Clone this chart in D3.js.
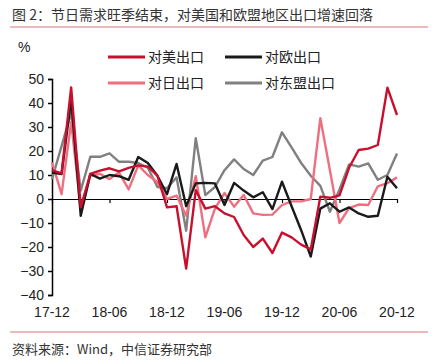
<!DOCTYPE html>
<html><head><meta charset="utf-8">
<script src="https://cdn.jsdelivr.net/npm/d3@7"></script>
<style>
body{margin:0;background:#fff;}
svg{display:block;}
text{font-family:"Liberation Sans","Noto Sans CJK SC",sans-serif;fill:#222;}
.cjk{font-family:"Noto Sans CJK SC","Liberation Sans",sans-serif;}
</style></head>
<body>
<script>
const months = ["17-12","18-01","18-02","18-03","18-04","18-05","18-06","18-07","18-08","18-09","18-10","18-11",
"18-12","19-01","19-02","19-03","19-04","19-05","19-06","19-07","19-08","19-09","19-10","19-11",
"19-12","20-01","20-02","20-03","20-04","20-05","20-06","20-07","20-08","20-09","20-10","20-11","20-12"];
const tickLabels = ["17-12","18-06","18-12","19-06","19-12","20-06","20-12"];
const yTicks = [50,40,30,20,10,0,-10,-20,-30,-40];
const seriesNames = ["对美出口","对欧出口","对日出口","对东盟出口"];
const usExports = [12,10.7,46.5,-3.5,10.5,11.8,12.8,11.5,13,14,13.5,9.7,-3.5,-3,-29,3.7,-4,-3,-6,-7.5,-15,-20,-16.5,-22.5,-14,-16,-19,-21,1,0.5,1.5,13,20.4,21,22.5,46.4,35];
const euExports = [11,10.4,41.7,-7,10.4,8.5,10,9.5,8,17.5,15,9.7,2,14.6,-3,6.5,6.7,6.5,-2.5,6.7,3.5,0.7,2.8,-4.2,7.2,-3,-13,-24,-4,-1.8,-5.3,-3.5,-6,-7.4,-7,9.3,4.5];
const jpExports = [15.3,2,32,-4,9.7,10.5,8.3,11,4,14,10,7,0,1.4,-7,9.5,-16,-4,2.5,-3.2,1.7,-6,-6.6,-6.5,-2.5,-1,-1,0,33.7,12,-10,-3.8,-2.3,-2.5,5.3,6.6,9]; 
const aseanExports = [8.3,22,36,3.5,17.6,17.6,19,15.5,15.5,15,13,5,4.5,9,-13.2,25.3,1.6,5,12,16.5,12.5,10,16,17.5,27.8,21.5,15,9.7,5.5,-5.3,4,14.4,13.5,14.8,8,10,19];

const W=437,H=364;
const svg=d3.select("body").append("svg").attr("width",W).attr("height",H);

// title
svg.append("text").attr("class","cjk").attr("x",12).attr("y",20).attr("font-size",14).style("fill","#333")
  .text("图 2：节日需求旺季结束，对美国和欧盟地区出口增速回落");
svg.append("line").attr("x1",10).attr("x2",428).attr("y1",27).attr("y2",27).attr("stroke","#d9747a").attr("stroke-width",1.2);
svg.append("line").attr("x1",10).attr("x2",428).attr("y1",332).attr("y2",332).attr("stroke","#d9747a").attr("stroke-width",1.2);
svg.append("text").attr("class","cjk").attr("x",12).attr("y",354).attr("font-size",13).style("fill","#333")
  .text("资料来源：Wind，中信证券研究部");

const x=d3.scalePoint().domain(months).range([52,397]);
const y=d3.scaleLinear().domain([-40,50]).range([295,79]);

svg.append("text").attr("x",18).attr("y",52).attr("font-size",14).text("%");

// y axis
const yAxis=svg.append("g").attr("transform","translate(52,0)")
  .call(d3.axisLeft(y).tickValues(yTicks).tickSize(4).tickPadding(4).tickFormat(d3.format("d")));
yAxis.select(".domain").attr("stroke","#000").attr("stroke-width",1.5);
yAxis.selectAll(".tick line").attr("stroke","#000").attr("stroke-width",1.5);
yAxis.selectAll("text").attr("font-size",14).style("fill","#222").attr("font-family","Liberation Sans");

const colors=["#c8102e","#1a1a1a","#ef6f7f","#808080"];
const data=[usExports,euExports,jpExports,aseanExports];

const line=d3.line().x((d,i)=>x(months[i])).y(d=>y(d));

// x axis at 0 drawn first
const xAxis=svg.append("g").attr("transform",`translate(0,${y(0)})`)
  .call(d3.axisBottom(x).tickValues(tickLabels).tickSize(4).tickSizeOuter(0).tickFormat(()=>""));
xAxis.select(".domain").attr("stroke","#000").attr("stroke-width",1.2);
xAxis.selectAll(".tick line").attr("stroke","#000").attr("stroke-width",1.2);

const order=[3,2,1,0];
order.forEach(k=>{
  svg.append("path").datum(data[k]).attr("d",line).attr("fill","none")
    .attr("stroke",colors[k]).attr("stroke-width",2.4).attr("stroke-linejoin","round");
});

// x tick labels
svg.append("g").selectAll("text").data(tickLabels).join("text")
  .attr("x",d=>x(d)).attr("y",317).attr("text-anchor","middle").attr("font-size",14).text(d=>d);

// legend
const leg=[{k:0,x:108,y:57},{k:1,x:225,y:57},{k:2,x:108,y:83},{k:3,x:225,y:83}];
leg.forEach(l=>{
  svg.append("line").attr("x1",l.x).attr("x2",l.x+37).attr("y1",l.y).attr("y2",l.y)
    .attr("stroke",colors[l.k]).attr("stroke-width",3);
  svg.append("text").attr("class","cjk").attr("x",l.x+40).attr("y",l.y+5).attr("font-size",14).style("fill","#222")
    .text(seriesNames[l.k]);
});
</script>
</body></html>
